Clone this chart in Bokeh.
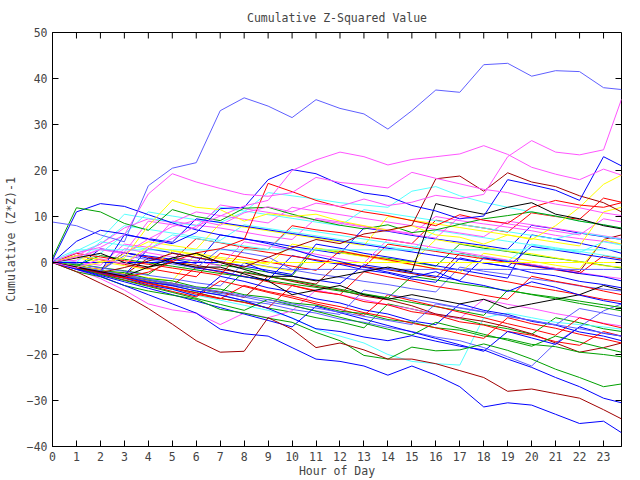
import math
from bokeh.plotting import figure
from bokeh.models import Range1d, FixedTicker
from bokeh.embed import file_html
from bokeh.resources import INLINE

hours = [0, 1, 2, 3, 4, 5, 6, 7, 8, 9, 10, 11, 12, 13, 14, 15, 16, 17, 18, 19, 20, 21, 22, 23, 23.75]
x_ticks = list(range(0, 24))
y_ticks = [-40, -30, -20, -10, 0, 10, 20, 30, 40, 50]

R, G, B, M, C, DR, Y, K, LB = ("#ff0000", "#00a000", "#0000ff", "#ff55ff", "#55ffff",
                               "#a00000", "#ffff00", "#000000", "#5f5fff")

s01 = [8.8, 8.0, 6.0, 4.5, 16.7, 20.5, 21.7, 33.0, 35.8, 34.0, 31.5, 35.4, 33.5, 32.3, 29.0, 33.0, 37.5, 37.0, 43.0, 43.3, 40.5, 41.7, 41.5, 38.0, 37.6]
s02 = [0.0, 1.2, 2.8, 1.9, 5.1, 7.8, 9.2, 8.1, 10.8, 12.1, 11.0, 12.9, 12.2, 13.8, 12.4, 13.1, 14.6, 13.9, 14.8, 23.0, 26.5, 24.0, 23.4, 24.5, 35.5]
s03 = [0.0, -1.2, 0.8, -0.3, 2.9, 5.2, 7.9, 10.1, 12.3, 13.5, 20.0, 22.3, 24.0, 23.0, 21.2, 22.4, 23.0, 23.6, 25.4, 23.5, 20.7, 19.2, 18.0, 20.3, 19.0]
s04 = [0.4, 2.1, 3.3, 6.0, 14.9, 19.3, 17.5, 16.1, 14.8, 14.4, 15.2, 18.5, 17.4, 16.9, 16.2, 19.6, 18.3, 17.1, 15.9, 15.2, 13.8, 12.7, 11.9, 10.8, 10.2]
s05 = [0.0, 4.6, 7.0, 6.2, 5.0, 4.1, 6.5, 11.7, 12.0, 18.0, 20.2, 19.3, 17.0, 15.1, 14.4, 12.4, 11.2, 9.5, 10.1, 18.0, 16.9, 15.7, 13.5, 23.0, 21.0]
s06 = [0.5, 11.0, 12.8, 12.2, 10.4, 8.6, 7.1, 6.0, 5.2, 4.1, 2.9, 1.3, 0.2, -1.0, -2.1, -3.2, -2.0, -4.1, -5.0, -6.3, -4.2, -5.4, -7.1, -8.3, -9.0]
s07 = [1.0, 11.9, 11.0, 8.5, 7.0, 11.5, 10.0, 9.1, 11.8, 12.0, 10.5, 9.2, 8.1, 7.3, 8.2, 6.5, 7.1, 8.3, 9.5, 10.2, 11.0, 10.1, 9.0, 8.2, 7.5]
s08 = [0.0, -1.1, -2.0, -3.2, -2.1, 0.2, 2.1, 3.0, 5.0, 17.2, 15.4, 13.5, 12.1, 11.0, 10.2, 9.1, 8.0, 10.4, 9.2, 8.5, 12.0, 13.5, 12.5, 12.0, 13.0]
s09 = [0.0, -1.0, -2.2, -1.1, 0.3, 2.0, 1.1, 0.2, -1.0, 1.1, 3.2, 5.0, 4.1, 6.2, 7.0, 8.1, 18.2, 18.8, 15.5, 19.5, 17.5, 16.5, 14.5, 13.0, 11.0]
s10 = [0.0, -2.0, -4.5, -7.0, -10.0, -13.4, -17.0, -19.5, -19.3, -12.0, -14.5, -18.5, -17.5, -19.0, -21.0, -21.0, -22.0, -23.5, -25.0, -28.0, -27.5, -28.5, -29.5, -32.0, -34.0]
s11 = [0.0, -1.5, -3.0, -5.0, -7.0, -9.0, -11.0, -14.5, -15.5, -16.0, -18.5, -21.0, -21.5, -22.5, -24.5, -22.5, -24.5, -27.0, -31.4, -30.5, -31.0, -33.0, -35.0, -34.5, -37.0]
s12 = [0.0, -1.0, -2.2, -3.1, -4.3, -5.0, -6.2, -7.1, -8.3, -10.0, -12.1, -14.4, -15.0, -16.2, -17.0, -15.9, -17.1, -18.2, -19.0, -21.0, -22.8, -25.0, -27.0, -29.5, -30.5]
s13 = [0.0, -2.0, -3.1, -5.0, -6.2, -7.1, -8.0, -10.2, -11.0, -12.1, -13.0, -15.2, -17.0, -20.2, -21.0, -18.4, -19.2, -19.0, -17.7, -19.1, -21.0, -23.2, -25.0, -27.0, -26.4]
s14 = [0.5, 2.75, 2.75, 2.75, 2.75, 2.75, 2.75, 2.75, 2.75, 2.75, 2.75, 2.75, 2.75, 2.75, 2.75, 2.75, 2.75, 2.75, 2.75, 2.75, 2.75, 2.75, 2.75, 2.75, 2.75]
s15 = [0.0, 0.0, 0.0, 0.0, 0.0, 0.0, 0.0, 0.0, 0.0, -2.1, -3.0, -3.8, -4.6, -0.5, -1.3, -2.2, -3.0, -3.9, 1.0, 0.2, -0.7, -1.5, -2.4, -3.1, -4.0]
s16 = [0.0, -0.9, -1.8, 1.5, 0.6, -0.3, -1.2, 3.0, 2.1, 1.2, -1.5, -1.5, -1.5, -1.5, -1.5, -1.5, -1.5, -1.5, -1.5, -1.5, -1.5, -1.5, -1.5, -1.5, -1.5]
s17 = [0.0, 1.5, 0.7, -0.2, 3.5, 2.6, 1.8, 0.0, 0.0, 0.0, 0.0, 0.0, 0.0, 0.0, 0.0, 0.0, 0.0, 0.0, 0.0, 0.0, 0.0, 0.0, 0.0, 0.0, 0.0]
s18 = [0.0, -1.0, -2.0, -3.0, -1.0, 1.0, 2.0, 0.0, -1.5, -3.0, -3.0, -4.0, -3.0, -2.0, -1.0, -2.0, 12.8, 11.5, 10.5, 12.0, 13.0, 10.5, 9.5, 8.0, 7.3]
s19 = [0.0, 1.0, 2.0, 0.0, -1.0, 0.0, -1.0, -1.0, -2.5, -4.0, -7.0, -6.0, -5.0, -7.0, -8.0, -7.0, -8.0, -9.0, -8.0, -10.0, -9.0, -8.0, -7.0, -5.0, -6.0]
s20 = [0.0, -1.0, 0.0, 1.0, 8.0, 13.5, 12.0, 11.5, 9.0, 10.6, 10.0, 10.5, 9.0, 8.0, 7.0, 8.0, 6.0, 5.5, 4.0, 6.0, 5.0, 8.0, 12.0, 17.0, 19.0]
s21 = [0.0, -0.8, -1.5, 2.1, 1.2, 0.4, 5.2, 4.3, 3.3, 2.8, 8.0, 7.1, 6.5, 5.6, 4.9, 4.1, 9.2, 8.3, 7.5, 6.6, 10.8, 10.0, 9.4, 14.0, 13.1]
s22 = [0.5, -0.3, -1.1, -1.8, -2.6, 1.0, 0.3, -0.6, -1.2, -2.1, -2.9, 3.1, 2.2, 1.4, 0.9, 0.1, -0.8, 4.0, 3.1, 2.4, 1.6, 0.9, 0.2, -0.6, -1.2]
s23 = [0.0, -1.1, 3.0, 2.1, 1.4, 0.7, -0.2, 6.0, 5.1, 4.4, 3.5, 2.7, 1.9, 7.5, 6.8, 5.9, 5.1, 4.4, 3.7, 2.9, 8.1, 7.3, 6.4, 5.6, 5.0]
s24 = [1.0, 0.1, -0.6, 4.0, 3.3, 9.0, 8.1, 7.5, 6.6, 5.7, 5.0, 9.6, 8.8, 7.9, 7.1, 6.3, 10.0, 9.1, 8.4, 7.7, 6.9, 5.9, 5.2, 4.6, 4.0]
s25 = [0.0, -0.8, 2.0, 6.1, 11.0, 10.1, 9.3, 8.7, 11.0, 15.2, 14.5, 13.8, 13.0, 12.5, 12.0, 15.5, 16.5, 14.5, 13.1, 12.0, 11.0, 10.1, 9.0, 8.2, 7.5]
s26 = [0.0, -1.0, -1.8, -2.7, 1.0, 0.1, -0.6, -1.5, -2.2, -3.1, -3.8, -4.7, 0.0, -0.9, -1.6, -2.4, -3.3, 2.0, 1.1, 0.4, -0.5, -1.3, -2.0, 5.0, 6.0]
s27 = [0.0, -0.8, -1.7, -2.4, -3.3, -4.0, 2.0, 1.1, 0.5, -0.4, 4.0, 3.1, 2.5, 1.6, 0.7, 0.0, 5.0, 4.1, 3.4, 2.5, 1.9, 1.0, 0.2, -0.7, -1.0]
s28 = [0.5, -0.3, -1.2, -1.9, -2.8, -3.5, -4.4, -5.1, 0.0, -0.9, -1.6, -2.5, -3.2, -4.1, -4.8, -5.7, -6.4, -1.0, -1.9, -2.6, -3.5, -4.2, -5.1, -5.8, -6.2]
s29 = [0.0, -1.0, -2.1, -3.0, -4.1, -5.0, -1.0, -2.1, -3.0, -4.2, -5.0, -6.1, -7.0, -2.0, -3.1, -4.0, -5.2, -6.0, -7.1, -8.0, -3.0, -4.1, -5.0, -6.2, -7.0]
s30 = [0.0, -1.2, -2.3, -3.5, -4.4, -5.6, -6.5, -7.8, -8.6, -9.9, -10.8, -12.0, -12.9, -14.2, -9.0, -10.1, -11.3, -12.2, -13.5, -14.4, -15.6, -12.0, -13.1, -14.4, -15.0]
s31 = [0.0, -0.9, -1.9, -2.8, 3.0, 2.1, 1.0, 0.2, -0.8, -1.7, -2.6, 4.0, 3.1, 2.0, 1.2, 0.3, -0.7, -1.6, -2.5, -3.4, 6.0, 5.1, 4.2, 3.1, 2.0]
s32 = [0.0, -1.5, -3.5, -6.0, -9.0, -10.3, -11.0, -13.5, -11.0, -12.0, -10.5, -6.0, -7.0, -8.1, -9.2, -10.1, -11.2, -12.2, -8.0, -9.1, -10.0, -11.1, -12.0, -13.2, -13.8]
s33 = [0.0, -1.3, -2.4, -3.6, -4.8, -5.9, -7.1, -8.2, -9.3, -10.4, -12.0, -14.5, -16.0, -17.5, -20.0, -21.5, -22.0, -22.3, -12.0, -11.0, -12.0, -13.0, -13.5, -14.0, -14.5]
s34 = [0.0, -1.0, -2.0, -3.1, -4.2, -5.1, -6.2, -7.0, -8.3, -9.0, -10.2, -11.0, -12.3, -13.0, -14.1, -15.0, -16.2, -17.0, -18.5, -20.5, -22.5, -17.5, -14.0, -10.5, -9.0]
s35 = [0.0, 1.5, 0.6, -0.4, -1.3, -2.2, -3.1, 2.0, 1.1, 0.1, -0.8, -1.7, 2.5, 1.5, 0.6, -0.4, -1.4, -2.3, -3.3, -4.2, -5.2, -6.1, -7.0, -8.0, -8.5]
s36 = [0.0, -0.9, -1.9, -2.9, -3.8, -4.8, -5.7, -6.7, -2.0, -3.0, -3.9, -4.9, -5.8, -6.8, -7.7, -8.7, -9.6, -10.5, -11.5, -6.0, -7.0, -7.9, -8.9, -9.8, -10.5]
s37 = [0.0, -1.1, -2.5, -3.4, -4.9, -5.8, -7.3, -3.0, -4.1, -5.5, -6.4, -7.9, -8.8, -10.3, -11.2, -12.7, -13.5, -9.0, -10.4, -11.3, -12.8, -13.6, -15.1, -16.0, -17.0]
s38 = [0.0, -0.9, -1.8, 3.0, 2.1, 1.2, 0.3, -0.7, 4.5, 3.6, 2.7, 1.8, 0.8, -0.1, 5.0, 4.1, 3.2, 2.3, 1.4, 0.5, -0.4, -1.3, -2.2, -3.0, -3.5]
s39 = [0.0, 2.0, 4.0, 8.0, 7.2, 6.4, 5.6, 4.8, 8.2, 7.4, 6.6, 5.8, 5.0, 4.2, 3.4, 2.6, 7.0, 6.2, 5.4, 4.6, 3.8, 3.0, 2.2, 4.5, 3.8]
s40 = [0.0, -0.8, -1.9, -2.6, -3.8, -4.5, -5.7, -6.4, -7.6, -3.0, -4.1, -5.2, -6.0, -7.3, -8.1, -9.4, -11.2, -12.0, -12.8, -14.0, -15.5, -17.5, -19.5, -18.5, -17.5]
s41 = [0.0, 1.0, 0.2, -0.7, -1.5, 2.5, 1.6, 0.8, -0.1, -1.0, -1.9, 3.0, 2.1, 1.3, 0.4, -0.5, -1.3, -2.2, 2.0, 1.2, 0.3, -0.6, -1.4, 5.0, 4.0]
s42 = [0.0, -1.3, -2.5, -3.8, -5.0, -6.3, -7.5, -4.0, -5.2, -6.5, -7.7, -9.0, -10.2, -11.5, -7.0, -8.3, -9.5, -10.8, -12.0, -13.3, -14.5, -15.8, -12.0, -13.3, -14.2]
s43 = [0.0, -0.7, 1.5, 0.7, -0.1, -0.8, -1.6, -2.4, -3.1, -3.9, -4.7, -5.4, -6.2, -7.0, -7.7, -3.0, -3.8, -4.6, -5.3, -6.1, -6.9, -7.6, -8.4, -9.2, -9.8]
s44 = [0.0, -1.1, -1.9, 2.2, 0.9, 0.1, -1.2, -1.9, -3.1, -3.8, 1.5, 0.4, -0.4, -1.6, -2.3, -3.6, -4.3, 1.0, -0.1, -0.9, -2.2, -2.9, -4.1, -4.8, -5.5]
s45 = [0.0, -1.2, -2.2, -3.4, -4.5, -5.5, -6.6, -7.8, -8.7, -9.9, -5.0, -6.3, -7.0, -8.5, -9.2, -10.7, -11.4, -12.9, -13.6, -15.0, -15.8, -17.2, -18.0, -15.0, -16.0]
s46 = [0.0, -1.0, -1.8, -2.9, -3.7, -4.8, -5.6, -6.7, -7.5, -8.6, -9.4, -10.5, -11.3, -6.0, -6.9, -7.9, -8.8, -9.8, -10.7, -11.7, -12.6, -13.6, -10.0, -11.0, -11.8]
s47 = [0.0, 2.0, 1.2, 0.4, -0.4, -1.2, -2.0, -2.8, 3.0, 2.2, 1.4, 0.6, -0.2, -1.0, 4.0, 3.2, 2.4, 1.6, 0.8, 0.0, -0.8, -1.6, -2.4, 1.5, 0.8]
s48 = [0.0, -0.5, -1.8, -2.2, -3.5, -4.0, -5.3, -5.8, -7.0, -7.6, -8.8, -9.3, -10.6, -11.1, -12.4, -13.0, -14.2, -14.7, -16.0, -16.6, -17.8, -18.3, -19.5, -20.0, -20.5]
s49 = [0.0, 1.5, 4.0, 7.5, 9.5, 8.7, 11.0, 10.2, 9.4, 8.6, 12.0, 11.2, 10.4, 9.6, 8.8, 8.0, 7.2, 6.4, 5.6, 9.0, 8.2, 7.4, 6.6, 5.8, 5.2]
s50 = [0.0, 2.5, 5.0, 10.5, 9.6, 8.8, 8.0, 12.0, 11.2, 10.4, 9.6, 8.8, 8.0, 11.5, 10.7, 9.9, 9.1, 8.3, 7.5, 6.7, 5.9, 5.1, 6.5, 5.7, 5.0]
s51 = [0.0, 0.5, 3.0, 2.2, 9.0, 8.2, 7.4, 12.5, 11.7, 10.9, 10.1, 9.3, 8.5, 7.7, 6.9, 6.1, 5.3, 10.0, 9.2, 8.4, 7.6, 6.8, 6.0, 9.5, 8.8]
s52 = [0.0, -0.8, -1.6, 2.0, 4.5, 3.7, 2.9, 8.5, 7.7, 6.9, 6.1, 5.3, 4.5, 3.7, 10.0, 9.2, 8.4, 7.6, 6.8, 6.0, 5.2, 4.4, 3.6, 11.0, 12.0]
s53 = [0.5, 0.0, 4.5, 3.7, 2.9, 6.0, 5.2, 4.4, 3.6, 2.8, 7.5, 6.7, 5.9, 5.1, 4.3, 3.5, 2.7, 1.9, 1.1, 0.3, 4.0, 3.2, 2.4, 1.6, 1.0]
s54 = [0.0, -1.0, -2.0, 6.0, 5.2, 4.4, 9.5, 8.7, 7.9, 7.1, 6.3, 5.5, 4.7, 3.9, 3.1, 2.3, 1.5, 0.7, -0.1, -0.9, 3.5, 2.7, 1.9, 1.1, 0.5]
s55 = [0.0, -1.3, -2.6, -3.9, -5.2, -6.5, -7.8, -9.1, -10.4, -8.0, -9.3, -10.6, -11.9, -13.2, -14.5, -15.8, -13.0, -14.3, -15.6, -16.9, -18.2, -16.0, -17.3, -18.6, -19.5]
s56 = [0.0, -1.0, -2.3, -3.3, -4.6, -5.6, -6.9, -7.9, -5.0, -6.3, -7.3, -8.6, -9.6, -10.9, -11.9, -13.2, -14.2, -15.5, -16.5, -12.0, -13.3, -14.3, -15.6, -16.6, -17.5]
s57 = [0.0, -1.4, -2.8, -4.2, -5.6, -7.0, -8.4, -9.8, -11.2, -12.6, -14.0, -9.5, -10.9, -12.3, -13.7, -15.1, -16.5, -17.9, -19.3, -15.0, -16.4, -17.8, -14.0, -15.4, -16.0]
s58 = [0.0, -0.9, -1.8, -2.7, -3.6, -4.5, -5.4, -6.3, -7.2, -8.1, -9.0, -9.9, -10.8, -11.7, -12.6, -13.5, -9.0, -9.9, -10.8, -11.7, -12.6, -13.5, -14.4, -15.3, -16.0]

series = [
    (s21, R), (s22, G), (s23, B), (s24, M), (s25, C), (s26, DR), (s27, Y), (s28, LB),
    (s29, R), (s30, G), (s31, B), (s32, M), (s33, C), (s40, DR), (s41, Y), (s34, LB),
    (s35, R), (s36, G), (s37, B), (s38, M), (s39, C), (s42, R), (s43, G), (s44, B),
    (s45, R), (s46, LB), (s47, R), (s48, G),
    (s49, M), (s50, C), (s51, M), (s52, Y), (s53, C), (s54, B),
    (s55, G), (s56, R), (s57, B), (s58, LB),
    (s14, C), (s15, B), (s16, LB), (s17, Y), (s19, K),
    (s06, B), (s07, G), (s12, B), (s13, G), (s10, DR), (s11, B),
    (s20, Y), (s08, R), (s09, DR), (s18, K), (s05, B), (s04, M), (s03, M), (s02, M), (s01, LB),
]

FONT = "DejaVu Sans Mono"
FS = "11.5px"
X0, X1 = 0, 23.75
Y0, Y1 = -40, 50

p = figure(width=640, height=480, output_backend="svg", toolbar_location=None,
           x_range=Range1d(X0, X1), y_range=Range1d(Y0, Y1),
           title="Cumulative Z-Squared Value")
p.min_border_left = 51
p.min_border_right = 19
p.min_border_top = 32
p.min_border_bottom = 34
p.title.align = "center"
p.title.text_font = FONT
p.title.text_font_size = FS
p.title.text_font_style = "normal"
p.title.standoff = 15
p.background_fill_color = "white"
p.border_fill_color = "white"
p.outline_line_color = "black"
p.outline_line_width = 1
p.grid.visible = False

for ys, col in series:
    n = min(len(ys), len(hours))
    p.line(hours[:n], ys[:n], line_color=col, line_width=1)

# mirrored inward tick marks on top and right edges
p.ray(x=x_ticks, y=[Y1] * len(x_ticks), length=6, length_units="screen",
      angle=-math.pi / 2, line_color="black", line_width=1)
p.ray(x=[X1] * len(y_ticks), y=y_ticks, length=6, length_units="screen",
      angle=math.pi, line_color="black", line_width=1)

p.xaxis.ticker = FixedTicker(ticks=x_ticks)
p.yaxis.ticker = FixedTicker(ticks=y_ticks)
p.xaxis.axis_label = "Hour of Day"
p.yaxis.axis_label = "Cumulative (Z*Z)-1"
for ax in (p.xaxis[0], p.yaxis[0]):
    ax.major_tick_in = 6
    ax.major_tick_out = 0
    ax.minor_tick_line_color = None
    ax.axis_line_color = "black"
    ax.major_label_text_font = FONT
    ax.major_label_text_font_size = FS
    ax.axis_label_text_font = FONT
    ax.axis_label_text_font_size = FS
    ax.axis_label_text_font_style = "normal"
p.xaxis.major_label_standoff = 5
p.xaxis.axis_label_standoff = 0
p.yaxis.major_label_standoff = 5
p.yaxis.axis_label_standoff = 6

open("out.html", "w").write(file_html(p, INLINE))
